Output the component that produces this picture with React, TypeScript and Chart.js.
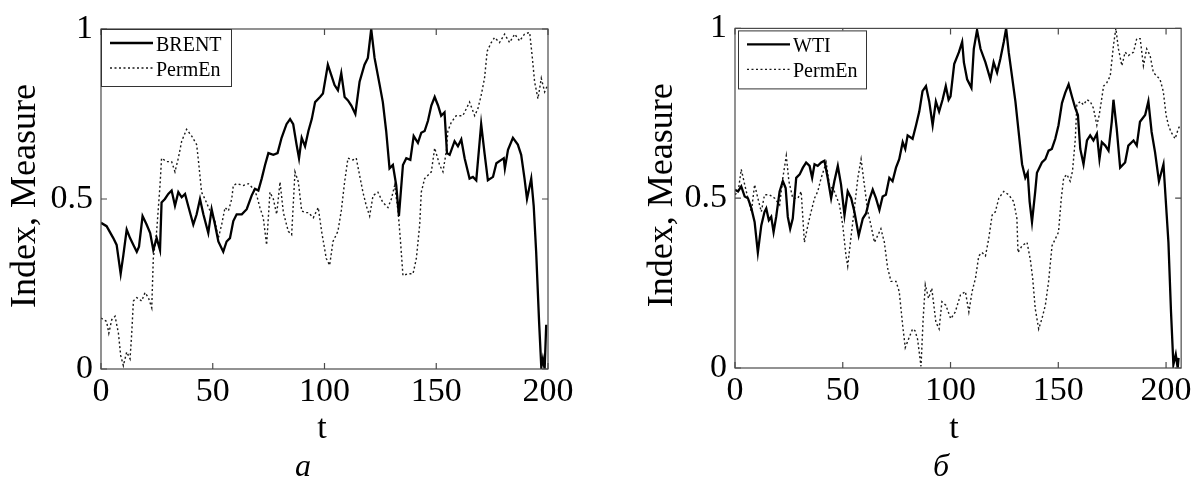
import React, { useEffect, useRef } from "react";
import { Chart, registerables } from "chart.js";
Chart.register(...registerables);

// ---------- data: panel а (BRENT) ----------
const brentT = [0,2.5,5.5,7,8.8,10,11.5,13,14.5,16,17,18.6,20.4,22,23.4,24.9,26.4,27.1,28.6,30.1,31.6,33.1,34.6,36.1,37.6,39,41.3,42.8,44.3,45.8,48,49.5,51,52.5,54.7,56.2,57.7,59.2,60.7,63,65.2,67.4,68.9,70.4,71.9,73.4,74.9,77.1,79,80.8,83,84.6,86,87.5,88.6,89.8,91.3,92.8,94.3,95.8,98,99.3,101.5,103,104.5,106,107.5,109,110.5,112,113.8,115.7,117.9,119.4,120.9,122.4,124.7,126.1,127.6,129.1,130.6,132.1,133.3,135.1,136.6,138.4,139.9,141.8,143.3,144.8,146.3,147.8,149.3,150.8,152.2,153.7,154.8,156,158.2,159.7,161.2,162.7,164.9,166.4,167.9,170.1,171.6,173.1,175.4,176.9,179.1,180.2,180.7,182.1,184.3,186.5,188,189.5,190.6,192.5,193.6,194.7,196,197,197.7,198.5,199.2];
const brentV = [0.43,0.42,0.385,0.365,0.28,0.335,0.41,0.385,0.365,0.345,0.36,0.45,0.425,0.4,0.35,0.385,0.35,0.49,0.5,0.515,0.525,0.48,0.52,0.505,0.515,0.48,0.425,0.455,0.5,0.455,0.4,0.47,0.425,0.375,0.345,0.375,0.385,0.435,0.455,0.455,0.47,0.51,0.53,0.525,0.56,0.6,0.635,0.63,0.635,0.68,0.72,0.735,0.72,0.66,0.62,0.68,0.655,0.7,0.735,0.785,0.8,0.81,0.895,0.865,0.835,0.82,0.87,0.8,0.79,0.775,0.75,0.845,0.895,0.915,1.0,0.915,0.835,0.785,0.7,0.59,0.6,0.54,0.45,0.6,0.62,0.615,0.685,0.665,0.695,0.7,0.73,0.775,0.8,0.775,0.745,0.755,0.635,0.63,0.67,0.655,0.675,0.62,0.56,0.565,0.555,0.72,0.635,0.555,0.565,0.605,0.615,0.62,0.59,0.645,0.68,0.66,0.63,0.56,0.5,0.56,0.48,0.345,0.14,0.005,0.03,0.0,0.13];

const permAT = [0,2.5,3.5,4.8,6.3,7.8,8.8,10,11.5,13,13.7,14.5,16,18.2,19.7,21.2,22.7,23.4,24.9,26.4,27.1,29.4,31.6,33.1,34.6,36.1,38.3,40.6,42.8,43.8,45,46.5,48.8,51,52.5,54,55.5,57,58.5,59.2,60.7,63.7,65.9,68.2,69.7,71.1,72.6,74.1,75.6,77.1,78.6,80.1,81.6,83.8,85.3,86.8,88.3,89.8,91.3,92.8,95,97.2,98.7,100.8,102.3,103.8,106,107.5,109,110.5,112.7,114.2,115.7,117.2,118.7,120.2,121.7,123.9,126.1,128.4,129.9,131.4,132.9,133.9,135.1,137.3,139.6,141.1,142.6,143.3,144.8,146.3,147.8,149.3,151.5,153,154.5,155.2,156.7,158.9,161.9,164.9,167.2,168.6,170.1,171.6,172.8,174.6,176.1,178.3,180.6,182.8,185.1,187.3,189.5,191.8,193,194,195.5,197,198.5,199.5];
const permAV = [0.15,0.14,0.105,0.145,0.155,0.105,0.04,0.01,0.05,0.03,0.1,0.2,0.21,0.2,0.225,0.21,0.18,0.325,0.405,0.54,0.62,0.61,0.61,0.58,0.62,0.67,0.705,0.685,0.66,0.6,0.52,0.5,0.465,0.435,0.385,0.425,0.475,0.465,0.5,0.54,0.545,0.54,0.545,0.53,0.51,0.475,0.445,0.365,0.52,0.5,0.455,0.55,0.46,0.405,0.395,0.58,0.55,0.465,0.46,0.46,0.445,0.475,0.405,0.325,0.305,0.375,0.405,0.465,0.55,0.62,0.615,0.62,0.57,0.52,0.48,0.45,0.51,0.52,0.49,0.475,0.5,0.54,0.465,0.385,0.275,0.28,0.28,0.325,0.425,0.52,0.56,0.57,0.58,0.65,0.6,0.58,0.64,0.7,0.725,0.745,0.745,0.785,0.745,0.765,0.805,0.855,0.935,0.96,0.975,0.96,0.985,0.96,0.985,0.965,0.985,0.99,0.915,0.845,0.795,0.855,0.815,0.83];

// ---------- data: panel б (WTI) ----------
const wtiT = [0,1.4,2.9,4.5,6,7.6,9.1,10.6,12.2,13.7,14.5,15.7,16.8,17.9,19.1,20.7,22.2,23.5,24.5,25.6,26.8,28.4,30,31.5,33,34.6,35.8,36.9,38.4,40,41.5,43,44.6,46.1,47.7,49.2,50.8,52.3,53.9,55.4,57.4,59.3,60.8,62.3,63.9,65.4,67,68.5,70,71.6,73.1,74.7,76.2,77.8,79,80.1,82.4,84,85.5,87,88.6,90.1,91.7,93.2,94.7,96.3,97.8,99.1,100,101.7,103.9,105.4,106.2,107.7,109.7,110.8,112.3,113.9,116.2,118.5,120,121.6,123.1,124.7,125.8,127,128.5,130.1,131.6,133.2,134.7,135.8,136.7,137.8,139.3,140.1,142.4,144,145.5,147,148.6,150.1,151.7,153.2,154.8,156.3,157.9,159.1,160.2,161.7,163.3,164.8,166.3,167.9,169.1,170.2,171.8,173.3,174.8,175.6,177.1,178.7,181,182.5,184.9,186.4,187.9,190.3,191.8,193.3,194.9,196.7,198.8,199.8,201.1,202.3,203.4,204.5,205.4,205.8];
const wtiV = [0.525,0.52,0.535,0.505,0.5,0.47,0.43,0.34,0.42,0.46,0.47,0.435,0.445,0.4,0.445,0.52,0.55,0.53,0.445,0.41,0.44,0.56,0.57,0.59,0.605,0.595,0.56,0.6,0.595,0.605,0.61,0.56,0.5,0.55,0.595,0.54,0.45,0.52,0.5,0.46,0.39,0.44,0.455,0.495,0.525,0.5,0.465,0.505,0.51,0.56,0.55,0.59,0.615,0.665,0.645,0.685,0.675,0.715,0.755,0.815,0.83,0.785,0.715,0.785,0.755,0.79,0.83,0.79,0.8,0.895,0.93,0.96,0.9,0.85,0.825,0.94,0.995,0.94,0.9,0.85,0.9,0.87,0.91,0.96,1.0,0.93,0.86,0.785,0.695,0.6,0.56,0.575,0.49,0.43,0.52,0.575,0.605,0.615,0.64,0.645,0.675,0.715,0.78,0.81,0.835,0.8,0.765,0.745,0.645,0.6,0.67,0.685,0.67,0.69,0.615,0.665,0.655,0.64,0.725,0.79,0.705,0.59,0.605,0.655,0.67,0.655,0.725,0.745,0.785,0.695,0.635,0.55,0.6,0.5,0.37,0.165,0.01,0.04,0.0,0.03];

const permBT = [0,1.5,2.9,4.5,6,7.6,9.1,10.6,12.2,13.7,16,18.4,20.7,22.2,23.8,25,26.8,29.2,30.7,32.2,33.8,35.3,36.9,38.4,40,42.3,43.8,46.1,48.5,50,51.5,52.3,53.9,55.4,57,58.5,59.7,61.6,63.1,64.7,66.2,67.7,69.3,70.8,72.4,74.7,76.2,77.8,79,80.5,82.4,83.5,84.7,86.3,87.3,88.3,89.8,91.3,93.2,94.7,96,97.8,100.1,102.2,104.6,106.9,108.5,110,111.6,113.1,114.6,116.2,117.7,119.3,120.8,122.4,124.7,127,129.3,130.8,131.3,133.2,135.5,137,138.1,139.3,140.9,142.4,144,145.5,147.1,148.6,150.1,151.4,152.5,154,155.5,156.6,157.9,158.6,160.2,161.7,163.3,164.8,166.3,167.9,169,170.2,171,172.5,174.1,175.6,176.7,177.9,179.5,181,182.5,184.9,186.4,188,189.5,191,192.6,194.1,195.7,197.2,198.7,200,201.1,202.3,204.2,205.7,206.6];
const permBV = [0.51,0.52,0.585,0.54,0.5,0.46,0.54,0.5,0.46,0.51,0.51,0.5,0.48,0.56,0.625,0.55,0.5,0.5,0.52,0.37,0.42,0.46,0.5,0.52,0.56,0.605,0.54,0.52,0.48,0.42,0.33,0.3,0.39,0.47,0.56,0.615,0.555,0.46,0.42,0.37,0.39,0.41,0.37,0.295,0.255,0.255,0.225,0.125,0.06,0.085,0.115,0.11,0.085,0.005,0.145,0.245,0.205,0.235,0.135,0.115,0.195,0.185,0.145,0.165,0.215,0.225,0.165,0.225,0.265,0.33,0.34,0.33,0.38,0.45,0.46,0.5,0.52,0.51,0.49,0.44,0.34,0.36,0.37,0.32,0.265,0.175,0.115,0.145,0.185,0.255,0.36,0.38,0.4,0.5,0.56,0.57,0.55,0.58,0.675,0.775,0.785,0.775,0.79,0.785,0.765,0.715,0.745,0.795,0.83,0.84,0.86,0.95,1.0,0.94,0.89,0.93,0.92,0.93,0.97,0.97,0.89,0.94,0.92,0.87,0.86,0.85,0.815,0.745,0.715,0.695,0.675,0.705,0.715];

const X_TICKS = [0, 50, 100, 150, 200];
const Y_TICKS = [0, 0.5, 1];
const Y_TICK_LABELS = ["0", "0.5", "1"];
const Y_TITLE = "Index, Measure";
const X_TITLE = "t";

const SERIF = "'Liberation Serif', 'Times New Roman', serif";

const toXY = (t: number[], v: number[]) => t.map((x, i) => ({ x, y: v[i] }));

type Panel = {
  width: number;
  xMax: number;
  area: { left: number; right: number; top: number; bottom: number };
  main: { label: string; t: number[]; v: number[] };
  perm: { t: number[]; v: number[] };
  legend: { dx: number; dy: number; w: number; h: number };
  yTitleX: number;
  xTitleX: number;
  caption: string;
  captionX: number;
};

const framePlugin = {
  id: "frame",
  afterDatasetsDraw(chart: any, _a: any, opts: any) {
    const { ctx, chartArea: a, scales } = chart;
    const p: Panel = opts.panel;
    ctx.save();
    // box
    ctx.strokeStyle = "#4a4a4a";
    ctx.lineWidth = 1.2;
    ctx.strokeRect(a.left, a.top, a.right - a.left, a.bottom - a.top);
    // inward ticks
    const L = 6;
    ctx.beginPath();
    for (const v of X_TICKS) {
      const x = scales.x.getPixelForValue(v);
      ctx.moveTo(x, a.bottom); ctx.lineTo(x, a.bottom - L);
      ctx.moveTo(x, a.top); ctx.lineTo(x, a.top + L);
    }
    for (const v of Y_TICKS) {
      const y = scales.y.getPixelForValue(v);
      ctx.moveTo(a.left, y); ctx.lineTo(a.left + L, y);
      ctx.moveTo(a.right, y); ctx.lineTo(a.right - L, y);
    }
    ctx.stroke();

    // legend
    const lg = p.legend;
    const bx = a.left + lg.dx, by = a.top + lg.dy;
    ctx.fillStyle = "#fff";
    ctx.fillRect(bx, by, lg.w, lg.h);
    ctx.strokeStyle = "#333";
    ctx.lineWidth = 1;
    ctx.strokeRect(bx + 0.5, by + 0.5, lg.w, lg.h);
    ctx.font = `20px ${SERIF}`;
    ctx.textBaseline = "alphabetic";
    ctx.textAlign = "left";
    chart.data.datasets.forEach((ds: any, i: number) => {
      const ly = by + 14 + i * 25;
      ctx.save();
      ctx.strokeStyle = ds.borderColor;
      ctx.lineWidth = ds.borderWidth;
      ctx.setLineDash(ds.borderDash || []);
      ctx.beginPath();
      ctx.moveTo(bx + 9, ly);
      ctx.lineTo(bx + 52, ly);
      ctx.stroke();
      ctx.restore();
      ctx.fillStyle = "#000";
      ctx.fillText(ds.label, bx + 55, ly + 8);
    });

    // axis titles
    ctx.fillStyle = "#000";
    ctx.font = `36px ${SERIF}`;
    ctx.save();
    ctx.translate(p.yTitleX, (a.top + a.bottom) / 2 - 3);
    ctx.rotate(-Math.PI / 2);
    ctx.textAlign = "center";
    ctx.textBaseline = "alphabetic";
    ctx.fillText(Y_TITLE, 0, 0);
    ctx.restore();

    ctx.textAlign = "center";
    ctx.textBaseline = "alphabetic";
    ctx.font = `34px ${SERIF}`;
    ctx.fillText(X_TITLE, p.xTitleX, 438);
    ctx.font = `italic 32px ${SERIF}`;
    ctx.fillText(p.caption, p.captionX, 476);
    ctx.restore();
  },
};

function PanelChart({ panel, left }: { panel: Panel; left: number }) {
  const ref = useRef<HTMLCanvasElement | null>(null);
  useEffect(() => {
    if (!ref.current) return;
    const a = panel.area;
    const H = 480;
    const tickFont = { family: SERIF, size: 34 };
    const chart = new Chart(ref.current, {
      type: "line",
      data: {
        datasets: [
          {
            label: panel.main.label,
            data: toXY(panel.main.t, panel.main.v),
            borderColor: "#000",
            borderWidth: 2.3,
            pointRadius: 0,
            tension: 0,
            fill: false,
          },
          {
            label: "PermEn",
            data: toXY(panel.perm.t, panel.perm.v),
            borderColor: "#1a1a1a",
            borderWidth: 1.4,
            borderDash: [2, 2.5],
            pointRadius: 0,
            tension: 0,
            fill: false,
          },
        ],
      },
      options: {
        responsive: false,
        animation: false,
        events: [],
        layout: { padding: { left: 0, top: a.top, right: panel.width - a.right, bottom: 0 } },
        plugins: {
          legend: { display: false },
          tooltip: { enabled: false },
          frame: { panel },
        } as any,
        scales: {
          x: {
            type: "linear",
            min: 0,
            max: panel.xMax,
            grid: { display: false, drawTicks: false, tickLength: 0 },
            border: { display: false },
            afterBuildTicks: (s: any) => { s.ticks = X_TICKS.map((value) => ({ value })); },
            afterFit: (s: any) => { s.height = H - a.bottom; },
            ticks: { font: tickFont, color: "#000", padding: 3, maxRotation: 0, autoSkip: false },
          },
          y: {
            type: "linear",
            min: 0,
            max: 1,
            grid: { display: false, drawTicks: false, tickLength: 0 },
            border: { display: false },
            afterBuildTicks: (s: any) => { s.ticks = Y_TICKS.map((value) => ({ value })); },
            afterFit: (s: any) => { s.width = a.left; },
            ticks: {
              font: tickFont,
              color: "#000",
              padding: 8,
              autoSkip: false,
              callback: (v: any) => Y_TICK_LABELS[Y_TICKS.indexOf(Number(v))] ?? String(v),
            },
          },
        },
      },
      plugins: [framePlugin],
    });
    return () => chart.destroy();
  }, [panel]);
  return (
    <canvas
      ref={ref}
      width={panel.width}
      height={480}
      style={{ position: "absolute", left, top: 0, width: panel.width, height: 480, display: "block" }}
    />
  );
}

const panelA: Panel = {
  width: 597,
  xMax: 200,
  area: { left: 101, right: 548, top: 29, bottom: 369 },
  main: { label: "BRENT", t: brentT, v: brentV },
  perm: { t: permAT, v: permAV },
  legend: { dx: 0, dy: 0, w: 130, h: 57 },
  yTitleX: 35,
  xTitleX: 322,
  caption: "а",
  captionX: 303,
};

const panelB: Panel = {
  width: 598,
  xMax: 207,
  area: { left: 138, right: 585, top: 28, bottom: 368 },
  main: { label: "WTI", t: wtiT, v: wtiV },
  perm: { t: permBT, v: permBV },
  legend: { dx: 3, dy: 2, w: 128, h: 58 },
  yTitleX: 75,
  xTitleX: 357,
  caption: "б",
  captionX: 344,
};

export default function App() {
  return (
    <div style={{ position: "absolute", left: 0, top: 0, width: 1195, height: 480, background: "#fff", overflow: "hidden" }}>
      <PanelChart panel={panelA} left={0} />
      <PanelChart panel={panelB} left={597} />
    </div>
  );
}
